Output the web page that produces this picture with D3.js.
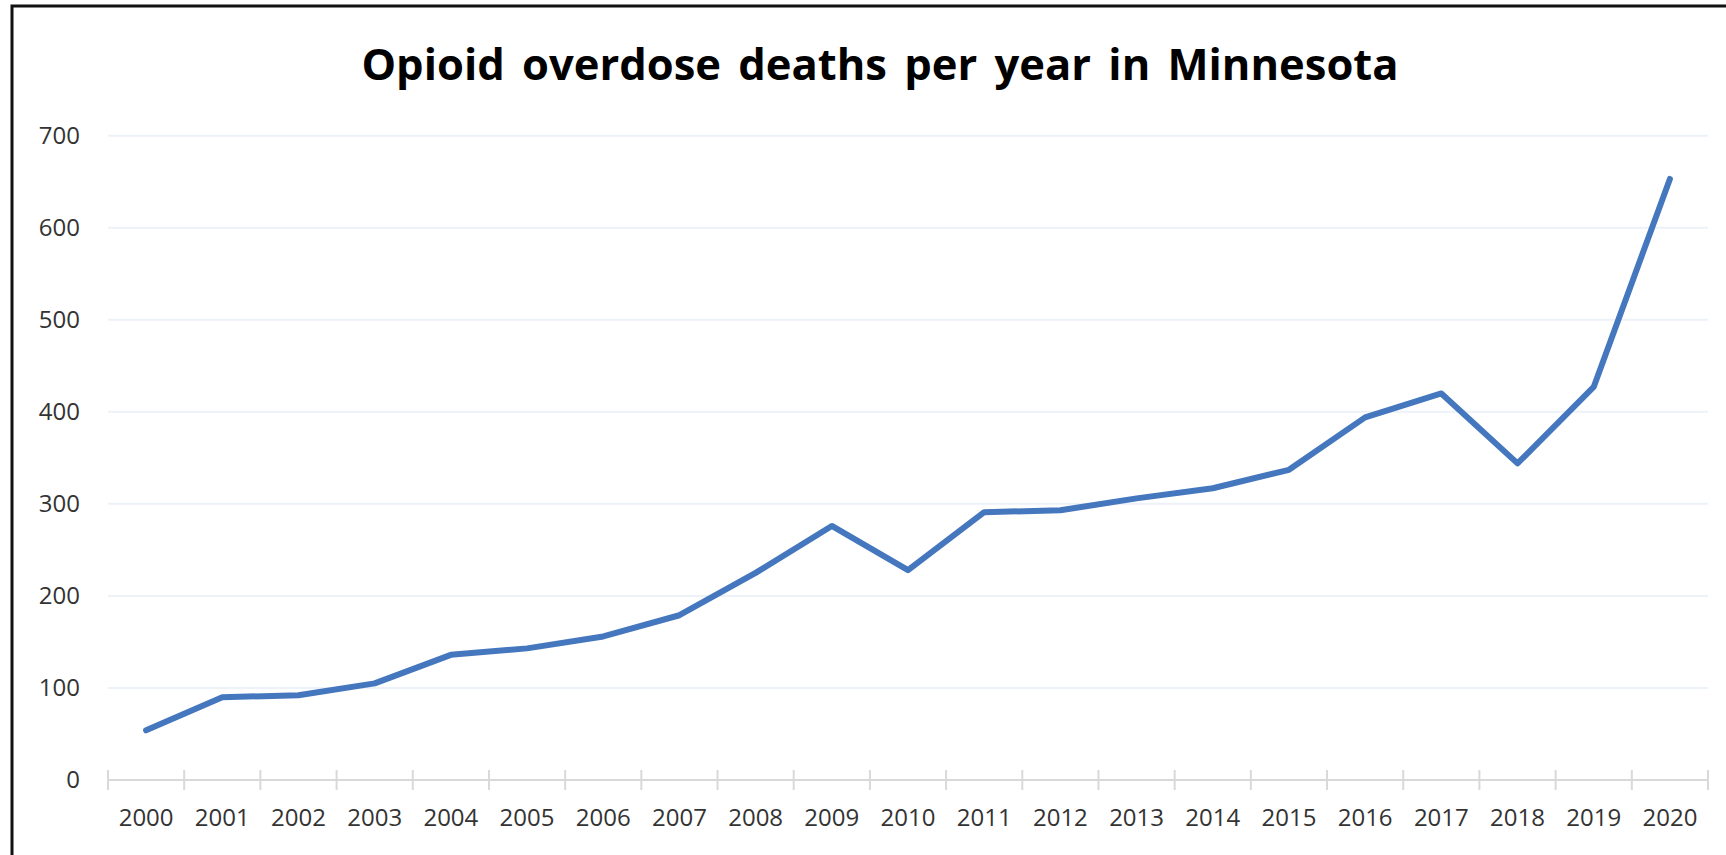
<!DOCTYPE html>
<html>
<head>
<meta charset="utf-8">
<script src="https://cdn.jsdelivr.net/npm/d3@7"></script>
<style>
    html, body { margin: 0; padding: 0; background: #fff; }
    svg { display: block; }
</style>
</head>
<body>
<div id="chart"></div>
<script>
// Data
const years = ["2000", "2001", "2002", "2003", "2004", "2005", "2006", "2007", "2008", "2009", "2010",
               "2011", "2012", "2013", "2014", "2015", "2016", "2017", "2018", "2019", "2020"];
const deaths = [54, 90, 92, 105, 136, 143, 156, 179, 225, 276, 228,
                291, 293, 306, 317, 337, 394, 420, 344, 427, 653];
const yTicks = [0, 100, 200, 300, 400, 500, 600, 700];
const title = "Opioid overdose deaths per year in Minnesota";

const width = 1726;
const height = 855;
const plot = { left: 108, right: 1708, top: 135.7, bottom: 780 };

const svg = d3.select("#chart")
    .append("svg")
    .attr("width", width)
    .attr("height", height);

svg.append("rect")
    .attr("width", width)
    .attr("height", height)
    .attr("fill", "#fff");

// Frame: only top and left edges are visible in the picture
svg.append("path")
    .attr("d", `M12,${height} L12,6 L${width},6`)
    .attr("fill", "none")
    .attr("stroke", "#111")
    .attr("stroke-width", 3);

const x = d3.scaleBand()
    .domain(years)
    .range([plot.left, plot.right])
    .paddingInner(0)
    .paddingOuter(0);

const y = d3.scaleLinear()
    .domain([0, 700])
    .range([plot.bottom, plot.top]);

// Gridlines
svg.append("g")
    .selectAll("line")
    .data(yTicks.filter(d => d > 0))
    .join("line")
    .attr("x1", plot.left)
    .attr("x2", plot.right)
    .attr("y1", d => y(d))
    .attr("y2", d => y(d))
    .attr("stroke", "#edf1f8")
    .attr("stroke-width", 2);

// Y axis labels (no axis line in the reference)
const yAxis = svg.append("g")
    .attr("transform", "translate(80,0)")
    .call(d3.axisLeft(y).tickValues(yTicks).tickSize(0).tickPadding(0));
yAxis.select(".domain").remove();
yAxis.selectAll("text")
    .attr("font-family", "'Open Sans', sans-serif")
    .attr("font-size", 24)
    .attr("fill", "#333");

// X axis: labels centred in each band, tick marks on band edges
const xAxis = svg.append("g")
    .attr("transform", `translate(0,${plot.bottom})`)
    .call(d3.axisBottom(x).tickSize(0).tickPadding(0));
xAxis.select(".domain").remove();
xAxis.selectAll("text")
    .attr("font-family", "'Open Sans', sans-serif")
    .attr("font-size", 24)
    .attr("fill", "#333")
    .attr("dy", null)
    .attr("y", 46);

svg.append("line")
    .attr("x1", plot.left)
    .attr("x2", plot.right)
    .attr("y1", plot.bottom)
    .attr("y2", plot.bottom)
    .attr("stroke", "#d9d9d9")
    .attr("stroke-width", 2);

const edges = years.map(d => x(d)).concat([x(years[years.length - 1]) + x.bandwidth()]);
svg.append("g")
    .selectAll("line")
    .data(edges)
    .join("line")
    .attr("x1", d => d)
    .attr("x2", d => d)
    .attr("y1", plot.bottom - 10)
    .attr("y2", plot.bottom + 10)
    .attr("stroke", "#d9d9d9")
    .attr("stroke-width", 2);

// The series line
const line = d3.line()
    .x((d, i) => x(years[i]) + x.bandwidth() / 2)
    .y(d => y(d));

svg.append("path")
    .datum(deaths)
    .attr("d", line)
    .attr("fill", "none")
    .attr("stroke", "#4577be")
    .attr("stroke-width", 6)
    .attr("stroke-linejoin", "round")
    .attr("stroke-linecap", "round");

// Title, sized to the width it has in the reference
const titleText = svg.append("text")
    .attr("x", 880)
    .attr("y", 80)
    .attr("text-anchor", "middle")
    .attr("font-family", "'Open Sans', sans-serif")
    .attr("font-weight", "bold")
    .attr("font-size", 44)
    .attr("fill", "#000")
    .attr("word-spacing", 6)
    .text(title);

const measured = titleText.node().getComputedTextLength();
titleText.attr("font-size", 44 * 1037 / measured);
</script>
</body>
</html>
